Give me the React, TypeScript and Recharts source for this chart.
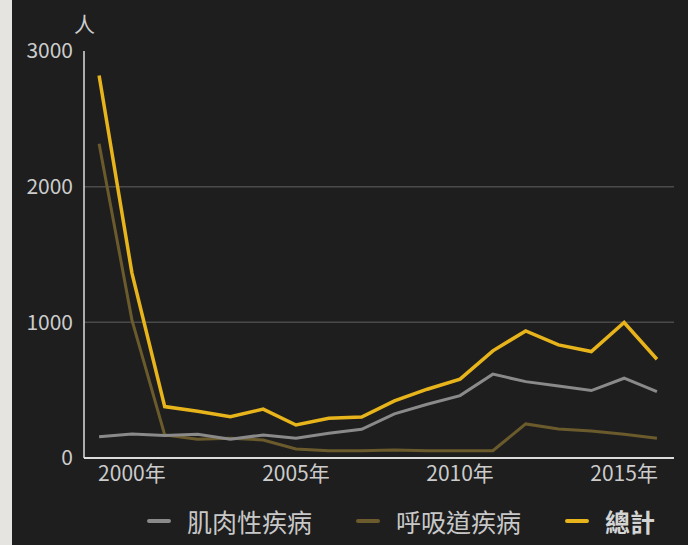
import React from 'react';
import { LineChart, Line, XAxis, YAxis, ReferenceLine } from 'recharts';

const years = [1999, 2000, 2001, 2002, 2003, 2004, 2005, 2006, 2007, 2008, 2009, 2010, 2011, 2012, 2013, 2014, 2015, 2016];
const muscle = [157, 177, 165, 175, 138, 170, 145, 182, 212, 325, 396, 460, 618, 563, 531, 497, 588, 490];
const respiratory = [2317, 1018, 170, 138, 145, 133, 66, 54, 54, 59, 54, 54, 54, 251, 214, 199, 175, 145];
const total = [2820, 1365, 379, 345, 305, 360, 243, 293, 302, 421, 507, 581, 790, 937, 834, 785, 999, 728];

const xTicks = [2000, 2005, 2010, 2015];
const yTicks = [0, 1000, 2000, 3000];
const gridValues = [1000, 2000];

const seriesNames = { muscle: '肌肉性疾病', respiratory: '呼吸道疾病', total: '總計' };
const unitLabel = '人';

const data = years.map((y, i) => ({
  year: y,
  muscle: muscle[i],
  respiratory: respiratory[i],
  total: total[i],
}));

const FONT = '"Noto Sans CJK TC", "Noto Sans", sans-serif';
const COLORS = { muscle: '#8a8a8a', respiratory: '#6b5b2c', total: '#e8b41c' };

const legendItems = [
  { key: 'muscle', bold: false },
  { key: 'respiratory', bold: false },
  { key: 'total', bold: true },
];

const LegendBox = () => (
  <div style={{ position: 'absolute', left: 135, top: 506, display: 'flex', alignItems: 'center', fontFamily: FONT, fontSize: 25, color: '#c8c8c8' }}>
    {legendItems.map((it, idx) => (
      <div key={it.key} style={{ display: 'flex', alignItems: 'center', marginRight: idx < 2 ? 44 : 0 }}>
        <div style={{ width: 24, height: 4, background: (COLORS as any)[it.key], borderRadius: 2, marginRight: 16 }} />
        <span style={{ fontWeight: it.bold ? 700 : 400, lineHeight: '30px', color: it.bold ? '#d4d4d4' : '#c8c8c8' }}>{(seriesNames as any)[it.key]}</span>
      </div>
    ))}
  </div>
);

export default function App() {
  return (
    <div style={{ position: 'absolute', left: 0, top: 0, width: 688, height: 545, background: '#e6e4e0' }}>
      <div style={{ position: 'absolute', left: 12, top: 0, width: 676, height: 545, background: '#1e1e1e' }}>
        <div style={{ position: 'absolute', left: 62, top: 8, fontFamily: FONT, fontSize: 21, color: '#cccccc' }}>{unitLabel}</div>
        <LineChart width={676} height={545} data={data} margin={{ top: 51, right: 14, bottom: 47, left: 0 }}>
          <XAxis
            dataKey="year"
            type="number"
            domain={[1998.54, 2016.52]}
            ticks={xTicks}
            tickFormatter={(v) => `${v}年`}
            tickLine={false}
            tickSize={0}
            tickMargin={8}
            axisLine={{ stroke: '#dcdcdc', strokeWidth: 2 }}
            tick={{ fill: '#cccccc', fontSize: 21, fontFamily: FONT }}
            height={40}
            allowDataOverflow
          />
          <YAxis
            domain={[0, 3000]}
            ticks={yTicks}
            tickLine={false}
            tickSize={0}
            tickMargin={11}
            axisLine={{ stroke: '#dcdcdc', strokeWidth: 1.5 }}
            tick={{ fill: '#cccccc', fontSize: 21, fontFamily: FONT }}
            width={72}
          />
          {gridValues.map((v) => (
            <ReferenceLine key={v} y={v} stroke="#4a4a4a" strokeWidth={1.5} />
          ))}
          <Line type="linear" dataKey="respiratory" name={seriesNames.respiratory} stroke={COLORS.respiratory} strokeWidth={3} dot={false} isAnimationActive={false} />
          <Line type="linear" dataKey="muscle" name={seriesNames.muscle} stroke={COLORS.muscle} strokeWidth={3} dot={false} isAnimationActive={false} />
          <Line type="linear" dataKey="total" name={seriesNames.total} stroke={COLORS.total} strokeWidth={3.5} dot={false} isAnimationActive={false} />
        </LineChart>
        <LegendBox />
      </div>
    </div>
  );
}
